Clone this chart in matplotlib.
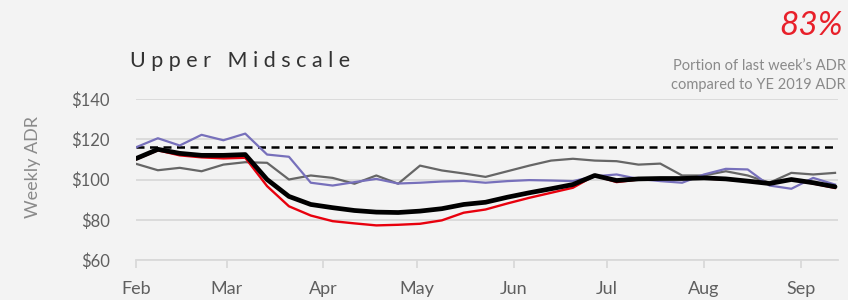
import numpy as np
import pandas as pd
import matplotlib
matplotlib.use('Agg')
import matplotlib.pyplot as plt
import matplotlib.dates as mdates

plt.rcParams['font.family'] = ['Lato', 'DejaVu Sans']

# weekly ADR, Upper Midscale
weeks = pd.date_range('2020-02-01', periods=33, freq='7D')
adr_2020 = [110.0, 114.5, 112.0, 111.0, 110.5, 110.8, 96.7, 86.7, 82.1, 79.3,
            78.2, 77.2, 77.5, 78.0, 79.7, 83.5, 85.1, 88.1, 90.9, 93.4,
            95.9, 102.0, 98.7, 100.0, 100.5, 100.5, 100.5, 100.0, 99.0, 98.0,
            100.0, 98.0, 95.8]
adr_smooth = [110.4, 115.0, 113.0, 112.0, 112.0, 112.4, 100.0, 91.6, 87.6, 86.0,
              84.6, 83.8, 83.6, 84.3, 85.5, 87.6, 88.7, 91.2, 93.4, 95.4,
              97.5, 102.0, 99.5, 100.3, 100.5, 100.5, 100.8, 100.3, 99.2, 98.0,
              100.0, 98.4, 96.4]
adr_2019 = [116.0, 120.5, 116.9, 122.2, 119.5, 122.8, 112.4, 111.3, 98.4, 97.0,
            98.7, 100.3, 98.0, 98.4, 99.0, 99.3, 98.4, 99.2, 99.7, 99.5,
            99.2, 101.6, 102.5, 100.3, 99.2, 98.4, 102.5, 105.3, 105.0, 97.0,
            95.4, 100.8, 97.5]
adr_2018 = [107.8, 104.6, 105.8, 104.1, 107.4, 108.6, 108.3, 100.0, 102.0, 100.8,
            97.9, 102.0, 97.9, 106.9, 104.5, 103.0, 101.3, 104.1, 106.9, 109.4,
            110.3, 109.4, 109.1, 107.4, 107.9, 102.0, 102.0, 104.1, 102.0, 98.4,
            103.3, 102.5, 103.3]
ye_2019_adr = 116.0

month_ticks = pd.date_range('2020-02-01', '2020-09-01', freq='MS')
month_labels = ['Feb', 'Mar', 'Apr', 'May', 'Jun', 'Jul', 'Aug', 'Sep']
y_ticks = [60, 80, 100, 120, 140]

bg = '#f3f3f3'
grid_c = '#d9d9d9'
txt_c = '#5f5f5f'

fig = plt.figure(figsize=(8.48, 3.0), dpi=100, facecolor=bg)
ax = fig.add_axes([0.1604, 0.1333, 0.828, 0.5367], facecolor=bg)

ax.axhline(ye_2019_adr, color='black', lw=1.8, ls=(0, (3.2, 2.2)), zorder=2)
ax.plot(weeks, adr_2018, color='#666666', lw=1.6, zorder=3,
        solid_joinstyle='round')
ax.plot(weeks, adr_2019, color='#7770bb', lw=1.6, zorder=4,
        solid_joinstyle='round')
ax.plot(weeks, adr_2020, color='#e8000d', lw=1.7, zorder=5,
        solid_joinstyle='round')
ax.plot(weeks, adr_smooth, color='black', lw=3.4, zorder=6,
        solid_capstyle='round', solid_joinstyle='round')

ax.set_ylim(60, 140)
ax.set_xlim(pd.Timestamp('2020-02-01'), pd.Timestamp('2020-09-13'))
ax.set_yticks(y_ticks)
ax.set_yticklabels(['${}'.format(v) for v in y_ticks])
ax.set_xticks(month_ticks)
ax.set_xticklabels(month_labels)

ax.grid(axis='y', color=grid_c, lw=1.3)
ax.set_axisbelow(True)
for s in ['top', 'right', 'left']:
    ax.spines[s].set_visible(False)
ax.spines['bottom'].set_color(grid_c)
ax.spines['bottom'].set_linewidth(1.3)
ax.tick_params(axis='y', length=0, pad=19, labelsize=12, labelcolor=txt_c)
ax.tick_params(axis='x', length=6, width=1.3, color=grid_c, pad=9,
               labelsize=13, labelcolor=txt_c)

ax.set_ylabel('Weekly ADR', fontsize=13, color='#8a8a8a')
ax.yaxis.set_label_coords(-0.136, 0.578)

fig.text(130 / 848, 1 - 61 / 300, 'U p p e r   M i d s c a l e', fontsize=15.5,
         color='#333333', ha='left', va='center')
fig.text(843 / 848, 1 - 26 / 300, '83%', fontsize=24, color='#e8202a',
         ha='right', va='center', style='italic')
fig.text(846 / 848, 1 - 66 / 300, 'Portion of last week\u2019s ADR', fontsize=10.5,
         color='#8a8a8a', ha='right', va='center')
fig.text(846 / 848, 1 - 85 / 300, 'compared to YE 2019 ADR', fontsize=10.5,
         color='#8a8a8a', ha='right', va='center')

fig.savefig('out.png', dpi=100, facecolor=bg)
